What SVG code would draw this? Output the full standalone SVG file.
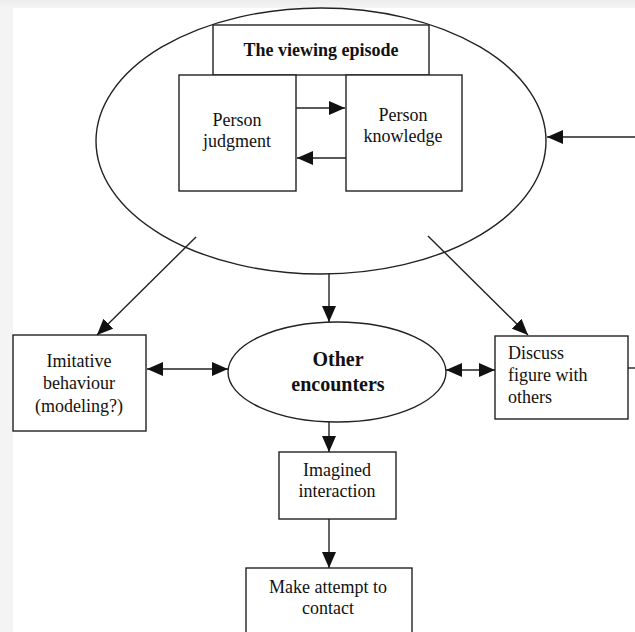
<svg xmlns="http://www.w3.org/2000/svg" width="635" height="632" viewBox="0 0 635 632">
<defs>
<style>
.s{fill:#fff;stroke:#222;stroke-width:1.4}
.l{fill:none;stroke:#222;stroke-width:1.4}
.t{font-family:"Liberation Serif","Times New Roman",serif;font-size:18px;fill:#111;text-anchor:middle}
.b{font-weight:bold}
</style>
<marker id="ah" markerWidth="16" markerHeight="14" refX="16" refY="7" orient="auto-start-reverse" markerUnits="userSpaceOnUse">
<path d="M0,0 L16,7 L0,14 Z" fill="#111"/>
</marker>
<linearGradient id="gt" x1="0" y1="0" x2="0" y2="1"><stop offset="0" stop-color="#ececec"/><stop offset="1" stop-color="#f6f6f6"/></linearGradient>
</defs>
<rect x="0" y="0" width="635" height="632" fill="#f4f4f4"/>
<rect x="0" y="0" width="635" height="9" fill="url(#gt)"/>
<rect x="13" y="8" width="622" height="624" fill="#fff"/>

<g id="viewing">
<ellipse class="s" cx="321" cy="141" rx="225" ry="133"/>
</g>
<g id="title">
<rect class="s" x="213" y="25" width="216" height="50"/>
<text class="t b" x="321" y="56">The viewing episode</text>
</g>
<g id="judgment">
<rect class="s" x="179" y="75" width="117" height="116"/>
<text class="t" x="237" y="126">Person</text>
<text class="t" x="237" y="147">judgment</text>
</g>
<g id="knowledge">
<rect class="s" x="346" y="75" width="116" height="116"/>
<text class="t" x="403" y="121">Person</text>
<text class="t" x="403" y="142">knowledge</text>
</g>
<g id="imitative">
<rect class="s" x="13" y="335" width="133" height="96"/>
<text class="t" x="79" y="367">Imitative</text>
<text class="t" x="79" y="389">behaviour</text>
<text class="t" x="79" y="412">(modeling?)</text>
</g>
<g id="other">
<ellipse class="s" cx="337" cy="372" rx="109" ry="50"/>
<text class="t b" x="338" y="366" style="font-size:20px">Other</text>
<text class="t b" x="338" y="391" style="font-size:20px">encounters</text>
</g>
<g id="discuss">
<rect class="s" x="495" y="336" width="133" height="83"/>
<text class="t" x="508" y="359" style="text-anchor:start">Discuss</text>
<text class="t" x="508" y="381" style="text-anchor:start">figure with</text>
<text class="t" x="508" y="403" style="text-anchor:start">others</text>
</g>
<g id="imagined">
<rect class="s" x="279" y="452" width="117" height="67"/>
<text class="t" x="337" y="476">Imagined</text>
<text class="t" x="337" y="497">interaction</text>
</g>
<g id="contact">
<rect class="s" x="246" y="568" width="166" height="80"/>
<text class="t" x="328" y="593">Make attempt to</text>
<text class="t" x="328" y="614">contact</text>
</g>

<g id="connectors">
<line class="l" x1="296" y1="108" x2="345" y2="108" marker-end="url(#ah)"/>
<line class="l" x1="346" y1="158" x2="297" y2="158" marker-end="url(#ah)"/>
<line class="l" x1="635" y1="137" x2="547" y2="137" marker-end="url(#ah)"/>
<line class="l" x1="196" y1="237" x2="97" y2="335" marker-end="url(#ah)"/>
<line class="l" x1="428" y1="236" x2="528" y2="335" marker-end="url(#ah)"/>
<line class="l" x1="329" y1="274" x2="329" y2="322" marker-end="url(#ah)"/>
<line class="l" x1="147" y1="369" x2="228" y2="369" marker-start="url(#ah)" marker-end="url(#ah)"/>
<line class="l" x1="446" y1="370" x2="495" y2="370" marker-start="url(#ah)" marker-end="url(#ah)"/>
<line class="l" x1="628" y1="368" x2="635" y2="368"/>
<line class="l" x1="329" y1="422" x2="329" y2="452" marker-end="url(#ah)"/>
<line class="l" x1="329" y1="519" x2="329" y2="568" marker-end="url(#ah)"/>
</g>
</svg>
